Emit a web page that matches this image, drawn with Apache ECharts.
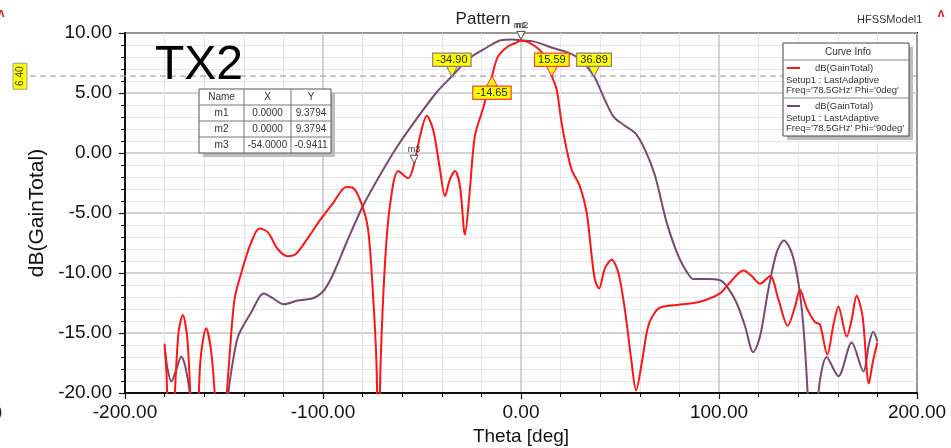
<!DOCTYPE html>
<html>
<head>
<meta charset="utf-8">
<script src="https://cdn.jsdelivr.net/npm/echarts@6/dist/echarts.min.js"></script>
<style>
html,body{margin:0;padding:0;background:#fff;}
#chart{width:951px;height:448px;}
</style>
</head>
<body>
<div id="chart"></div>
<script>
// ---- Data ----
const thetaPhi0 = [-180, -179, -177.5, -175.5, -173, -170.8, -168.5, -166.5, -164.5, -162, -159, -156.5, -154.5, -152, -149, -147, -144.7, -141.3, -136.6, -132.1, -127.9, -122.9, -117.8, -113.6, -107.7, -101.5, -94.9, -88.2, -84.8, -80.6, -77.2, -74.7, -73, -72, -70.9, -68.7, -66.2, -62, -57, -54, -51, -47.6, -44.3, -40.9, -38.4, -35.9, -33.3, -30.8, -28.3, -26.1, -23.3, -19.1, -14.65, -11.6, -6.5, -2.3, 0, 6.2, 12.1, 15.59, 18, 20.5, 23.1, 25.6, 29.8, 33.2, 35.7, 37.4, 39.4, 42.4, 45.8, 49.2, 52.5, 55.9, 58.1, 61, 64.3, 68.5, 71.9, 82, 90.4, 100.5, 105.5, 112.3, 116.5, 120.7, 125.8, 130, 134.7, 138.4, 140.9, 144.3, 148.5, 151, 154.7, 157.7, 160.3, 164.5, 167, 169.5, 172.5, 175.7, 177.6, 180];
const gainPhi0 = [-15.9, -18.5, -26, -22, -15, -13.5, -15.5, -22, -28, -17.5, -14.6, -16.5, -20.5, -28, -21, -16.5, -12.2, -10, -7.6, -6.3, -6.6, -8.0, -8.6, -8.4, -7.1, -5.6, -4.17, -2.83, -2.9, -4.2, -6.4, -11.9, -17.5, -26, -17.5, -9.2, -4.4, -1.5, -2.1, -0.94, 1.4, 3.1, 1.9, -1.4, -3.6, -2.2, -1.5, -2.8, -6.8, -3.6, 1.4, 3.75, 6.4, 8.05, 8.9, 9.2, 9.38, 9.0, 8.05, 6.4, 5.3, 2.5, 0.28, -1.4, -2.8, -5, -8.6, -10.6, -11.3, -9.6, -8.9, -10, -13.1, -17.5, -19.8, -17.5, -14.4, -13.1, -12.8, -12.6, -12.4, -11.7, -10.8, -9.8, -10.25, -10.9, -10.25, -12.2, -14.4, -12.8, -11.4, -12.9, -14.1, -14.3, -16.8, -14.4, -12.8, -15.3, -13.9, -11.9, -13.6, -19.2, -17.5, -15.8];

const thetaPhi90 = [-180, -178.5, -176.6, -174, -171.6, -169.5, -167, -165.5, -157, -149.5, -148, -146.7, -144, -142.2, -136.3, -129.9, -125.4, -119.8, -112.8, -106, -102.7, -99.3, -94.9, -88.2, -79.8, -71.4, -63, -52.9, -42.9, -34.9, -26.1, -17.7, -10.1, -4.2, 0, 6.2, 16.3, 24.8, 29.8, 36.89, 41.6, 46.6, 51.7, 57.6, 62.6, 67.7, 73.6, 79.5, 84.5, 87.1, 93.8, 100.5, 103.9, 108.9, 113.1, 117.3, 120.7, 124.9, 129.1, 132.8, 136.7, 140.1, 142.6, 144.6, 146.5, 149, 150.2, 154.4, 160.3, 167, 172.9, 175.9, 177.9, 180];
const gainPhi90 = [-16.2, -18.0, -19.05, -18, -16.95, -17.8, -20.5, -26, -28, -26, -20.5, -18.6, -16, -15, -13.3, -11.7, -12.1, -12.6, -12.3, -12.15, -11.9, -11.4, -10.1, -7.5, -4.4, -1.9, 0.42, 2.8, 5.0, 6.4, 7.9, 8.75, 9.4, 9.45, 9.38, 9.3, 8.75, 8.3, 7.8, 6.4, 4.7, 3.05, 2.36, 1.67, 0.28, -1.9, -5.8, -8.6, -10.1, -10.5, -10.5, -10.6, -11.1, -12.5, -14.4, -16.6, -15.3, -11.4, -8.3, -7.3, -8.3, -10.8, -14.4, -19.5, -26, -26, -20, -17, -18.6, -15.8, -18.2, -15.8, -14.9, -15.7];

const xTickValues = [-200, -100, 0, 100, 200];
const yTickValues = [-20, -15, -10, -5, 0, 5, 10];

const refLevel = 6.4;
const phi0Crossings = [-14.65, 15.59];
const phi90Crossings = [-34.90, 36.89];

const markerNames = ['m1', 'm2', 'm3'];
const markerX = [0.0, 0.0, -54.0];
const markerY = [9.3794, 9.3794, -0.9411];

const curveNames = ['dB(GainTotal)', 'dB(GainTotal)'];
const curveSetups = ['Setup1 : LastAdaptive', 'Setup1 : LastAdaptive'];
const curveFreqs = ["Freq='78.5GHz' Phi='0deg'", "Freq='78.5GHz' Phi='90deg'"];

// ---- Build ----
const RED = '#ff1414';
const PURPLE = '#7a4a6e';
const FONT = 'Liberation Sans, Arial, sans-serif';

const zip = (a, b) => a.map((v, i) => [v, b[i]]);

function crossingPoint(x, down, borderColor) {
  return {
    coord: [x, refLevel],
    symbol: 'triangle',
    symbolSize: [11, 10],
    symbolRotate: down ? 180 : 0,
    symbolOffset: [0, down ? -5 : 5],
    itemStyle: { color: '#ffff00', borderColor: borderColor, borderWidth: 1 },
    label: {
      show: true,
      position: down ? 'top' : 'bottom',
      distance: 0,
      formatter: x.toFixed(2),
      backgroundColor: '#ffff00',
      borderColor: borderColor,
      borderWidth: 1.2,
      padding: [1, 3, 0, 3],
      color: '#222',
      fontSize: 11,
      fontFamily: FONT
    }
  };
}

function markerPoint(i, dx) {
  return {
    coord: [markerX[i], markerY[i]],
    symbol: 'triangle',
    symbolRotate: 180,
    symbolSize: [8, 8],
    symbolOffset: [0, -5],
    itemStyle: { color: '#fff', borderColor: '#555', borderWidth: 1 },
    label: {
      show: true, position: 'top', distance: 1, offset: [dx || 0, 0],
      formatter: markerNames[i], color: '#333', fontSize: 9, fontFamily: FONT
    }
  };
}

const chart = echarts.init(document.getElementById('chart'), null, { renderer: 'canvas' });

const axisCommon = {
  axisLine: { show: true, onZero: false, lineStyle: { color: '#111', width: 2 } },
  axisTick: { show: true, length: 6, lineStyle: { color: '#111', width: 1.2 } },
  minorTick: { show: true, splitNumber: 5, length: 4, lineStyle: { color: '#111', width: 1 } },
  splitLine: { show: true, lineStyle: { color: '#c4c4c4', width: 1.5 } },
  minorSplitLine: { show: true, lineStyle: { color: '#e6e6e6', width: 1 } },
  axisLabel: { color: '#111', fontSize: 19, fontFamily: FONT, formatter: v => v.toFixed(2) },
  nameTextStyle: { color: '#111', fontSize: 19, fontFamily: FONT }
};

chart.setOption({
  animation: false,
  backgroundColor: '#fff',
  title: [
    { text: 'Pattern', left: 478, top: 6, textAlign: 'center',
      textStyle: { fontSize: 17, fontWeight: 'normal', color: '#222', fontFamily: FONT } },
    { text: 'HFSSModel1', left: 852, top: 9,
      textStyle: { fontSize: 11, fontWeight: 'normal', color: '#333', fontFamily: FONT } },
    { text: 'TX2', left: 150, top: 37,
      textStyle: { fontSize: 48, fontWeight: 'normal', color: '#000', fontFamily: FONT } }
  ],
  grid: { left: 125, right: 34, top: 33, bottom: 55, show: true, borderColor: '#111', borderWidth: 2,
    backgroundColor: 'transparent', containLabel: false, outerBoundsMode: 'none' },
  xAxis: Object.assign({}, axisCommon, {
    type: 'value', min: xTickValues[0], max: xTickValues[xTickValues.length - 1], interval: 100,
    name: 'Theta [deg]', nameLocation: 'middle', nameGap: 33,
    axisLabel: Object.assign({}, axisCommon.axisLabel, { margin: 10 })
  }),
  yAxis: Object.assign({}, axisCommon, {
    type: 'value', min: yTickValues[0], max: yTickValues[yTickValues.length - 1], interval: 5,
    name: 'dB(GainTotal)', nameLocation: 'middle', nameGap: 67, nameRotate: 90,
    nameTextStyle: { color: '#111', fontSize: 21, fontFamily: FONT },
    axisLabel: Object.assign({}, axisCommon.axisLabel, { margin: 13 })
  }),
  series: [
    {
      name: 'phi0', type: 'line', data: zip(thetaPhi0, gainPhi0), showSymbol: false,
      smooth: 0.3, clip: true, lineStyle: { color: RED, width: 2 }, z: 3,
      markPoint: { animation: false, data: [
        markerPoint(0, -1), markerPoint(2),
        crossingPoint(phi0Crossings[0], false, '#ff3b3b'),
        crossingPoint(phi0Crossings[1], true, '#ff3b3b')
      ] }
    },
    {
      name: 'phi90', type: 'line', data: zip(thetaPhi90, gainPhi90), showSymbol: false,
      smooth: 0.3, clip: true, lineStyle: { color: PURPLE, width: 2 }, z: 2,
      markPoint: { animation: false, data: [
        markerPoint(1, 1),
        crossingPoint(phi90Crossings[0], true, '#8a7a8a'),
        crossingPoint(phi90Crossings[1], true, '#8a7a8a')
      ] }
    }
  ]
});

// ---- Annotations: reference line, marker table, curve info box ----
const yRef = chart.convertToPixel({ yAxisIndex: 0 }, refLevel);
const xRight = chart.convertToPixel({ xAxisIndex: 0 }, xTickValues[xTickValues.length - 1]);

const g = [];
g.push({ type: 'line', z: 1, silent: true,
  shape: { x1: 30, y1: yRef, x2: xRight, y2: yRef },
  style: { stroke: '#a8a8a8', lineWidth: 1.3, lineDash: [6, 4] } });
g.push({ type: 'rect', z: 5, shape: { x: 13, y: yRef - 13, width: 14, height: 26 },
  style: { fill: '#ffff00', stroke: '#999', lineWidth: 1 } });
g.push({ type: 'text', z: 6, x: 20, y: yRef, rotation: Math.PI / 2,
  style: { text: refLevel.toFixed(2), fill: '#333', font: '10px ' + FONT, align: 'center', verticalAlign: 'middle' } });

// marker table
const tX = 199, tY = 89, colW = [45, 47, 40], rowH = 16;
const tW = colW.reduce((a, b) => a + b, 0), tH = rowH * 4;
g.push({ type: 'rect', z: 10, shape: { x: tX + 4, y: tY + 4, width: tW, height: tH }, style: { fill: '#bdbdbd' } });
g.push({ type: 'rect', z: 11, shape: { x: tX, y: tY, width: tW, height: tH }, style: { fill: '#fff', stroke: '#555', lineWidth: 1 } });
const rows = [['Name', 'X', 'Y']].concat(markerNames.map((n, i) => [n, markerX[i].toFixed(4), markerY[i].toFixed(4)]));
rows.forEach((r, ri) => {
  if (ri > 0) g.push({ type: 'line', z: 12, shape: { x1: tX, y1: tY + ri * rowH, x2: tX + tW, y2: tY + ri * rowH }, style: { stroke: '#777', lineWidth: 1 } });
  let cx = tX;
  r.forEach((c, ci) => {
    if (ri === 0 && ci > 0) g.push({ type: 'line', z: 12, shape: { x1: cx, y1: tY, x2: cx, y2: tY + tH }, style: { stroke: '#777', lineWidth: 1 } });
    g.push({ type: 'text', z: 13, x: cx + colW[ci] / 2, y: tY + ri * rowH + rowH / 2 + 0.5,
      style: { text: c, fill: '#333', font: '10px ' + FONT, align: 'center', verticalAlign: 'middle' } });
    cx += colW[ci];
  });
});

// curve info box
const lX = 783, lY = 43, lW = 126, lH = 93;
const LF = '9.5px ' + FONT;
g.push({ type: 'rect', z: 10, shape: { x: lX + 4, y: lY + 4, width: lW, height: lH }, style: { fill: '#bdbdbd' } });
g.push({ type: 'rect', z: 11, shape: { x: lX, y: lY, width: lW, height: lH }, style: { fill: '#fff', stroke: '#444', lineWidth: 1 } });
g.push({ type: 'text', z: 13, x: lX + lW / 2 + 2, y: lY + 9,
  style: { text: 'Curve Info', fill: '#333', font: '10px ' + FONT, align: 'center', verticalAlign: 'middle' } });
g.push({ type: 'line', z: 12, shape: { x1: lX, y1: lY + 17, x2: lX + lW, y2: lY + 17 }, style: { stroke: '#888', lineWidth: 1 } });
g.push({ type: 'line', z: 12, shape: { x1: lX, y1: lY + 55, x2: lX + lW, y2: lY + 55 }, style: { stroke: '#888', lineWidth: 1 } });
[RED, PURPLE].forEach((col, i) => {
  const by = lY + 25 + i * 38;
  g.push({ type: 'line', z: 12, shape: { x1: lX + 4, y1: by, x2: lX + 17, y2: by }, style: { stroke: col, lineWidth: 2 } });
  g.push({ type: 'text', z: 13, x: lX + 32, y: by, style: { text: curveNames[i], fill: '#333', font: LF, verticalAlign: 'middle' } });
  g.push({ type: 'text', z: 13, x: lX + 3, y: by + 12, style: { text: curveSetups[i], fill: '#333', font: LF, verticalAlign: 'middle' } });
  g.push({ type: 'text', z: 13, x: lX + 3, y: by + 22, style: { text: curveFreqs[i], fill: '#333', font: LF, verticalAlign: 'middle' } });
});

// small red logos at the corners
g.push({ type: 'text', z: 13, x: 941, y: 14, style: { text: '\u028C', fill: '#d22', font: 'bold 12px ' + FONT, align: 'center', verticalAlign: 'middle' } });
g.push({ type: 'text', z: 13, x: 1, y: 14, style: { text: '\u028C', fill: '#d22', font: 'bold 12px ' + FONT, align: 'center', verticalAlign: 'middle' } });
g.push({ type: 'text', z: 13, x: -3, y: 413, style: { text: ')', fill: '#222', font: '16px ' + FONT, verticalAlign: 'middle' } });

chart.setOption({ graphic: g });
</script>
</body>
</html>
